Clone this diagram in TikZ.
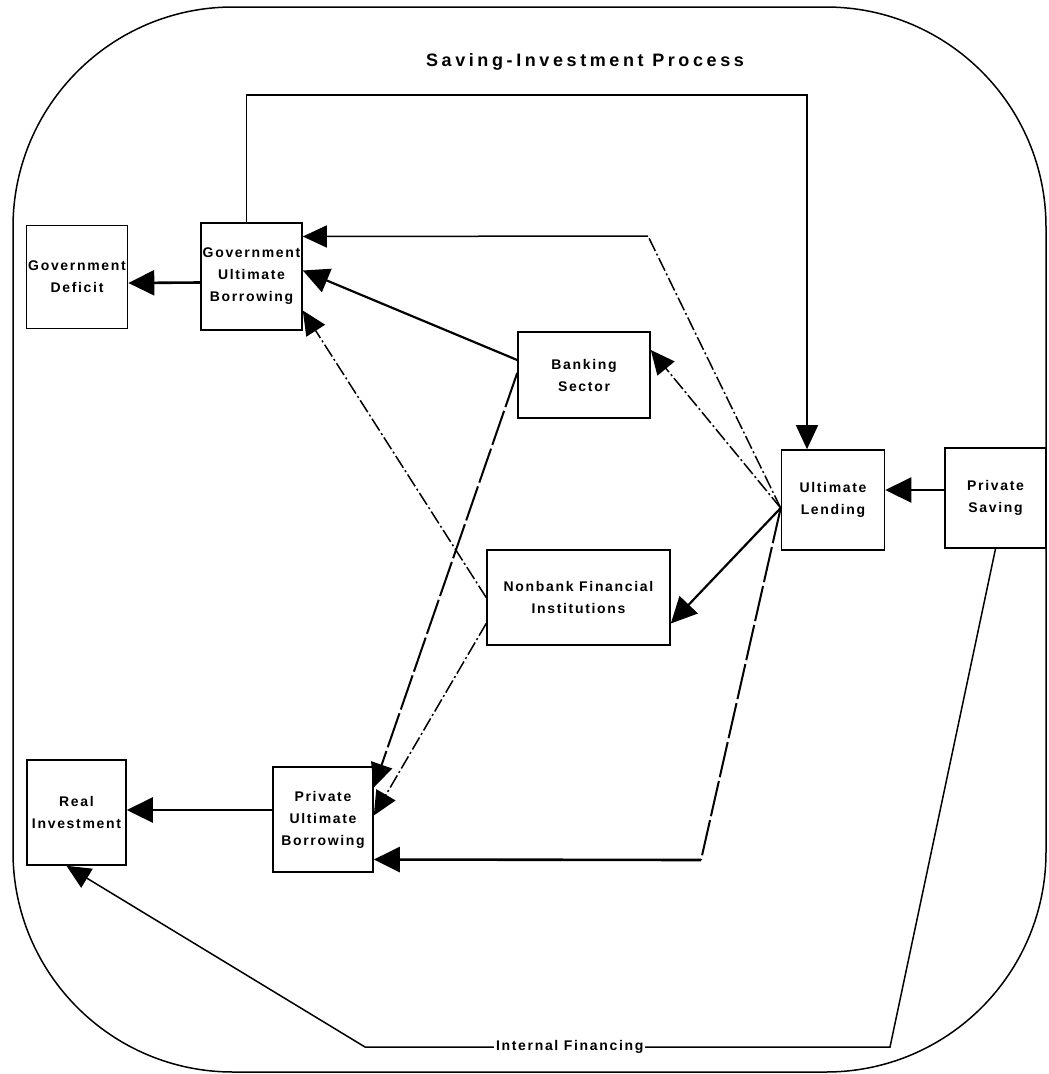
\documentclass[tikz,border=0pt]{standalone}
\usepackage{fontspec}
\setmainfont{Liberation Sans}
\usetikzlibrary{arrows.meta}
\newcommand{\sectfont}{\fontsize{14}{22}\selectfont\bfseries\addfontfeature{LetterSpace=12}}
\newcommand{\titfont}{\fontsize{18}{22}\selectfont\bfseries\addfontfeature{LetterSpace=20}}

\begin{document}
\begin{tikzpicture}[x=1pt,y=-1pt,
  sect/.style={draw,line width=1.6pt,align=center,inner sep=0pt,font=\sectfont},
  arr/.style={-{Triangle[length=26pt,width=25pt]},line width=2.6pt},
  lnk/.style={-{Triangle[length=24pt,width=22pt]},line width=1.5pt},
  dd/.style={lnk,dash pattern=on 14pt off 3pt on 2pt off 3pt},
  ld/.style={-{Triangle[length=24pt,width=22pt]},line width=2pt,dash pattern=on 36pt off 4pt}
]
\useasboundingbox (0,0) rectangle (1049,1074);
\draw[line width=1.5pt,rounded corners=220pt] (13,7) rectangle (1046,1072);
\node[font=\titfont] (ttl) at (585,62) {Saving-Investment Process};

\node[sect,minimum width=101pt,minimum height=103pt] (gdef) at (77,277) {Government\\Deficit};
\node[sect,minimum width=101pt,minimum height=107pt] (gub) at (251.5,276.5) {Government\\Ultimate\\Borrowing};
\node[sect,minimum width=132pt,minimum height=86pt] (bank) at (584,375) {Banking\\Sector};
\node[sect,minimum width=103pt,minimum height=100pt] (lend) at (833,500) {Ultimate\\Lending};
\node[sect,minimum width=101pt,minimum height=100pt] (psav) at (995.5,498) {Private\\Saving};
\node[sect,minimum width=183pt,minimum height=95pt] (nbfi) at (578.5,597.5) {Nonbank Financial\\Institutions};
\node[sect,minimum width=99pt,minimum height=105pt] (rinv) at (76.5,812.5) {Real\\Investment};
\node[sect,minimum width=100pt,minimum height=105pt] (pub) at (323,819.5) {Private\\Ultimate\\Borrowing};

\coordinate (hub) at ([yshift=-8pt]lend.west);
\coordinate (kg) at (648,236);
\coordinate (kp) at (701,860);

\draw[arr] ([yshift=-6pt]gub.west) -- ([yshift=-6pt]gdef.east);
\draw[lnk] ([xshift=-5pt]gub.north) |- (807,95) -- ([xshift=-26pt]lend.north);
\draw[dd,-] (hub) -- (kg);
\draw[lnk] (kg) -- ([yshift=40pt]gub.east);
\draw[arr,line width=2.2pt] ([yshift=15pt]bank.west) -- ([yshift=6pt]gub.east);
\draw[dd] (nbfi.west) -- ([yshift=-34pt]gub.east);
\draw[dd] (hub) -- ([yshift=25pt]bank.east);
\draw[arr,line width=2.2pt] (hub) -- ([yshift=-26pt]nbfi.east);
\draw[ld] ([yshift=2pt]bank.west) -- ([yshift=32pt]pub.east);
\draw[dd] ([yshift=-26pt]nbfi.west) -- ([yshift=4pt]pub.east);
\draw[ld,-] (hub) -- (kp);
\draw[arr] (kp) -- ([yshift=-40pt]pub.east);
\draw[arr] ([yshift=8pt]psav.west) -- ([yshift=10pt]lend.east);
\draw[arr] ([yshift=9.5pt]pub.west) -- ([yshift=2.5pt]rinv.east);
\draw[lnk] (psav.south) -- (890,1047) -- node[fill=white,pos=0.61,inner sep=2pt,font=\sectfont] (intfin) {Internal Financing} (365,1047) -- ([xshift=-10pt]rinv.south);
\end{tikzpicture}
\end{document}
